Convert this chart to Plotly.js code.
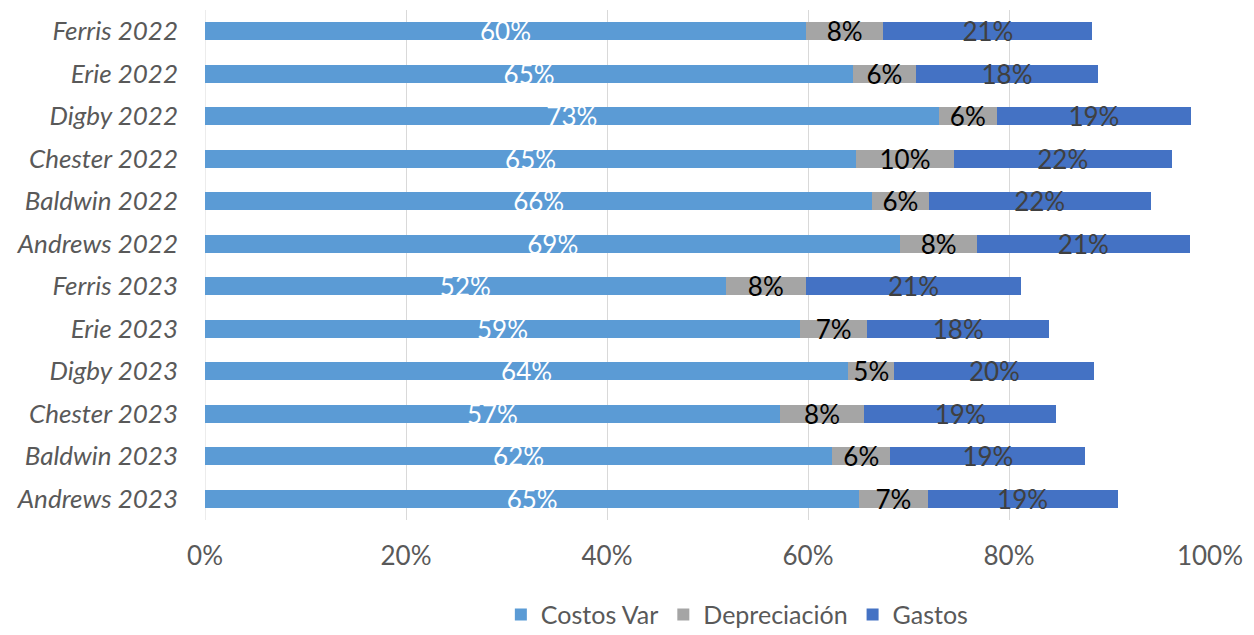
<!DOCTYPE html>
<html>
<head>
<meta charset="utf-8">
<script src="https://cdn.plot.ly/plotly-3.0.1.min.js"></script>
<style>html,body{margin:0;padding:0;background:#fff;}#chart{width:1254px;height:635px;}</style>
</head>
<body>
<div id="chart"></div>
<script>
// Categories listed bottom to top
const categories = ["Andrews 2023","Baldwin 2023","Chester 2023","Digby 2023","Erie 2023","Ferris 2023",
                    "Andrews 2022","Baldwin 2022","Chester 2022","Digby 2022","Erie 2022","Ferris 2022"];
const costosVar    = [0.651, 0.624, 0.572, 0.640, 0.592, 0.518, 0.692, 0.664, 0.648, 0.730, 0.645, 0.598];
const depreciacion = [0.068, 0.058, 0.084, 0.046, 0.067, 0.080, 0.076, 0.056, 0.097, 0.058, 0.062, 0.077];
const gastos       = [0.189, 0.194, 0.191, 0.199, 0.181, 0.214, 0.212, 0.221, 0.217, 0.193, 0.182, 0.208];
const seriesNames  = ["Costos Var", "Depreciación", "Gastos"];
const xTicks       = [0, 0.2, 0.4, 0.6, 0.8, 1.0];

const FONT = "Lato, 'Open Sans', sans-serif";
const common = {
  type: "bar", orientation: "h", y: categories,
  width: 0.43,
  texttemplate: "%{x:.0%}",
  textposition: "inside", insidetextanchor: "middle", textangle: 0,
  constraintext: "none", cliponaxis: false,
  hoverinfo: "skip"
};
const data = [
  Object.assign({}, common, {name: seriesNames[0], x: costosVar,
    marker: {color: "#5B9BD5"}, textfont: {family: FONT, size: 26, color: "#ffffff"}}),
  Object.assign({}, common, {name: seriesNames[1], x: depreciacion,
    marker: {color: "#A5A5A5"}, textfont: {family: FONT, size: 26, color: "#000000"}}),
  Object.assign({}, common, {name: seriesNames[2], x: gastos,
    marker: {color: "#4472C4"}, textfont: {family: FONT, size: 26, color: "#404040"}})
];

const layout = {
  width: 1254, height: 635,
  barmode: "stack",
  paper_bgcolor: "#ffffff", plot_bgcolor: "#ffffff",
  margin: {l: 205, r: 44, t: 10, b: 115, autoexpand: false},
  font: {family: FONT, size: 26, color: "#595959"},
  showlegend: true,
  legend: {orientation: "h", x: 0.588, xanchor: "center", xref: "container",
           y: -0.186, yanchor: "middle", yref: "paper",
           font: {family: FONT, size: 25, color: "#595959"}, traceorder: "normal",
           itemwidth: 30},
  xaxis: {range: [0, 1.0], tickvals: xTicks, tickformat: ".0%",
          showgrid: true, gridcolor: "#d9d9d9", gridwidth: 1,
          zeroline: false, showline: false, ticks: "",
          ticklabelstandoff: 18,
          tickfont: {family: FONT, size: 26, color: "#595959"}},
  yaxis: {type: "category", showgrid: false, zeroline: false, showline: false, ticks: "",
          ticklabelstandoff: 26,
          tickfont: {family: FONT, size: 26, color: "#595959", style: "italic"}},
  shapes: [{type: "line", xref: "x", yref: "paper", x0: 0, x1: 0, y0: 0, y1: 1,
            line: {color: "#d9d9d9", width: 1}, layer: "below"}]
};

Plotly.newPlot("chart", data, layout, {displayModeBar: false, staticPlot: true});
</script>
</body>
</html>
